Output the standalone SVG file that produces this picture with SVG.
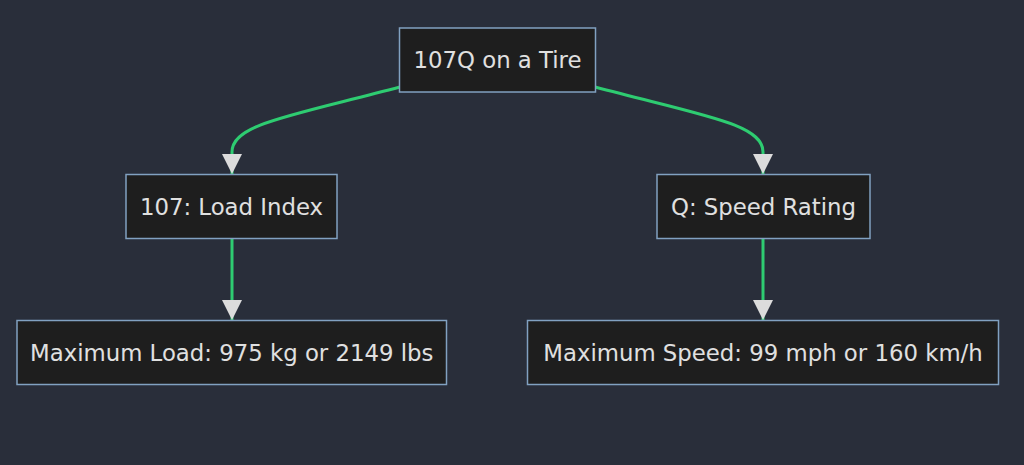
<svg xmlns="http://www.w3.org/2000/svg" width="1024" height="465" viewBox="0 0 1024 465">
<style>
.node rect{fill:#1e1e1e;stroke:#81a1c1;stroke-width:1.5}
.node text{fill:#e0e0e0;font-family:"DejaVu Sans",Verdana,sans-serif;font-size:22.8px;text-anchor:middle;dominant-baseline:central}
.edge{fill:none;stroke:#2ecc71;stroke-width:3}
</style>
<defs>
<marker id="arr" viewBox="0 0 20 20" refX="20" refY="10" markerWidth="20" markerHeight="20" markerUnits="userSpaceOnUse" orient="auto">
<path d="M0,0 L20,10 L0,20 Z" fill="#dcdcdc"/>
</marker>
</defs>
<rect width="1024" height="465" fill="#292e3a"/>
<g id="connectors">
<path class="edge" d="M400,87 C290,116 232,124 232,152 L232,174" marker-end="url(#arr)"/>
<path class="edge" d="M595,87 C705,116 763,124 763,152 L763,174" marker-end="url(#arr)"/>
<path class="edge" d="M232,239 L232,320" marker-end="url(#arr)"/>
<path class="edge" d="M763,239 L763,320" marker-end="url(#arr)"/>
</g>
<g id="tire" class="node"><rect x="399.5" y="28" width="196" height="64"/><text x="497.5" y="60">107Q on a Tire</text></g>
<g id="load" class="node"><rect x="126" y="174.5" width="211" height="64"/><text x="231.5" y="206.5">107: Load Index</text></g>
<g id="speed" class="node"><rect x="657" y="174.5" width="213" height="64"/><text x="763.5" y="206.5">Q: Speed Rating</text></g>
<g id="maxload" class="node"><rect x="17" y="320.5" width="429.5" height="64"/><text x="231.75" y="352.5">Maximum Load: 975 kg or 2149 lbs</text></g>
<g id="maxspeed" class="node"><rect x="527.5" y="320.5" width="471" height="64"/><text x="763" y="352.5">Maximum Speed: 99 mph or 160 km/h</text></g>
</svg>
